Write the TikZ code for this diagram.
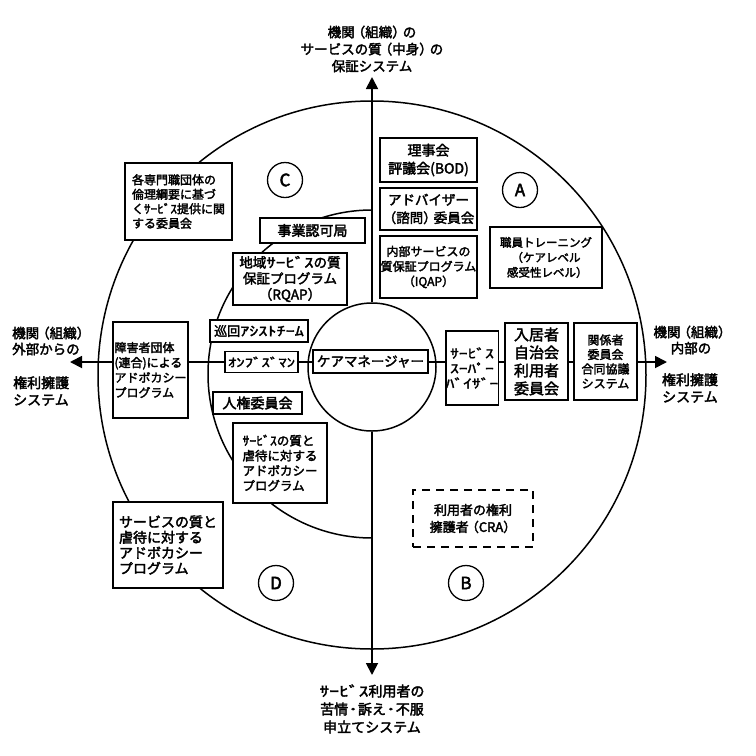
\documentclass[tikz,border=0pt]{standalone}
\usepackage{fontspec}
\setmainfont{Noto Sans CJK JP}[FakeBold=2.5]
\newfontfamily\hw{Noto Sans CJK JP}[FakeStretch=1.4, FakeBold=2.5]
\newfontfamily\hwn{Noto Sans CJK JP}[FakeStretch=1.1, FakeBold=2.5]
\newcommand\lpar{\kern-.22em（}
\newcommand\rpar{）\kern-.22em}
\usetikzlibrary{arrows.meta}
\begin{document}
\begin{tikzpicture}[x=1pt,y=-1pt,
  box/.style={draw, line width=1.5pt, fill=white, inner sep=0pt, align=center},
  lbl/.style={inner sep=0pt, align=center},
  axis/.style={line width=1.8pt, -{Triangle[length=12pt,width=12pt]}},
  link/.style={line width=1.8pt},
  zone/.style={circle, draw, line width=1.3pt, minimum size=35pt, inner sep=0pt, font=\fontsize{17pt}{17pt}\selectfont},
  fs/.style={font=\fontsize{#1pt}{#1pt}\selectfont},
]
\useasboundingbox (0,0) rectangle (756,756);
\fill[white] (0,0) rectangle (756,756);

% rings
\draw[line width=1.5pt] (372,375) circle[radius=274];
\begin{scope}
\clip (0,0) rectangle (372,756);
\draw[line width=1.5pt] (372,374) circle[radius=164];
\end{scope}

% central circle
\node[circle, draw, line width=1.5pt, fill=white, minimum size=128pt, inner sep=0pt] (cc) at (372,367) {};

% axis end points
\coordinate (topTip) at (372,77);
\coordinate (botTip) at (372,675);
\coordinate (leftTip) at (70,362);
\coordinate (rightTip) at (667,362);

% axis labels
\node[lbl, font=\fontsize{13.5pt}{17pt}\selectfont] (tlab) at (372,49) {機関\lpar 組織\rpar の\\サービスの質\lpar 中身\rpar の\\保証システム};
\node[lbl, font=\fontsize{14pt}{18pt}\selectfont] (blab) at (372,709) {{\hw ｻｰﾋﾞｽ}利用者の\\苦情{\hw ･}訴え{\hw ･}不服\\申立てシステム};
\node[lbl, align=left, anchor=west, font=\fontsize{13.5pt}{16pt}\selectfont] (llab1) at (12,341) {機関\lpar 組織\rpar\\外部からの};
\node[lbl, align=left, anchor=west, font=\fontsize{14pt}{17pt}\selectfont] (llab2) at (13,391) {権利擁護\\システム};
\node[lbl, font=\fontsize{13.5pt}{16pt}\selectfont] (rlab1) at (691,340) {機関\lpar 組織\rpar\\内部の};
\node[lbl, font=\fontsize{14pt}{17pt}\selectfont] (rlab2) at (690,388) {権利擁護\\システム};

% zone markers
\node[zone] (zA) at (520,190) {A};
\node[zone] (zB) at (466,583) {B};
\node[zone] (zC) at (285,180) {C};
\node[zone] (zD) at (276,583) {D};

% boxes
\node[box, align=left, minimum width=107pt, minimum height=77pt, font=\fontsize{12pt}{14.5pt}\selectfont] (kaku) at (178.5,201.5) {各専門職団体の\\倫理綱要に基づ\\く{\hwn ｻｰﾋﾞｽ}提供に関\\する委員会};
\node[box, minimum width=105pt, minimum height=25pt, fs=14] (jigyo) at (312.5,230.5) {事業認可局};
\node[box, minimum width=114pt, minimum height=52pt, font=\fontsize{13.5pt}{16pt}\selectfont] (chiiki) at (290,279) {地域{\hw ｻｰﾋﾞｽ}の質\\保証プログラム\\（RQAP）};
\node[box, minimum width=98pt, minimum height=22pt, fs=13] (junkai) at (259,331) {巡回{\hw ｱｼｽﾄﾁｰﾑ}};
\node[box, minimum width=73pt, minimum height=21pt, fs=12] (ombuds) at (261.5,362) {\hw ｵﾝﾌﾞｽﾞﾏﾝ};
\node[box, minimum width=89pt, minimum height=22pt, fs=14] (jinken) at (257.5,403) {人権委員会};
\node[box, align=left, minimum width=75pt, minimum height=96pt, font=\fontsize{12pt}{15pt}\selectfont] (shogai) at (150.5,370) {障害者団体\\(連合)による\\アドボカシー\\プログラム};
\node[box, minimum width=115pt, minimum height=23pt, fs=13.5] (care) at (370.5,361.5) {ケアマネージャー};
\node[box, minimum width=50pt, minimum height=74pt, font=\fontsize{12.5pt}{15pt}\selectfont\hw] (sv) at (472,368) {ｻｰﾋﾞｽ\\ｽｰﾊﾟｰ\\ﾊﾞｲｻﾞｰ};
\node[box, minimum width=63pt, minimum height=77pt, font=\fontsize{15pt}{18pt}\selectfont] (nyukyo) at (536.5,361.5) {入居者\\自治会\\利用者\\委員会};
\node[box, minimum width=63pt, minimum height=77pt, font=\fontsize{12pt}{14.5pt}\selectfont] (kankei) at (605.5,361.5) {関係者\\委員会\\合同協議\\システム};
\node[box, minimum width=97pt, minimum height=44pt, font=\fontsize{14pt}{18pt}\selectfont] (riji) at (428.5,160) {理事会\\評議会(BOD)};
\node[box, minimum width=97pt, minimum height=42pt, font=\fontsize{13.5pt}{18pt}\selectfont] (advisor) at (428.5,209) {アドバイザー\\（諮問\rpar 委員会};
\node[box, minimum width=97pt, minimum height=62pt, font=\fontsize{12pt}{15pt}\selectfont] (naibu) at (428.5,267) {内部サービスの\\質保証プログラム\\（IQAP）};
\node[box, minimum width=112pt, minimum height=61pt, font=\fontsize{11.5pt}{15pt}\selectfont] (shokuin) at (546,257.5) {職員トレーニング\\（ケアレベル\\\ 感受性レベル）};
\node[box, align=left, minimum width=94pt, minimum height=80pt, font=\fontsize{12.5pt}{15pt}\selectfont] (innerqa) at (280,463) {{\hwn ｻｰﾋﾞｽ}の質と\\虐待に対する\\アドボカシー\\プログラム};
\node[box, align=left, minimum width=110pt, minimum height=86pt, font=\fontsize{14pt}{15.5pt}\selectfont] (outerqa) at (168,545) {サービスの質と\\虐待に対する\\アドボカシー\\プログラム};
\node[box, dash pattern=on 8pt off 6pt, minimum width=120pt, minimum height=57pt, font=\fontsize{13pt}{17pt}\selectfont] (cra) at (473,518.5) {利用者の権利\\擁護者\lpar CRA）};

% vertical axis
\draw[axis] (cc.north) -- (topTip);
\draw[axis] (cc.south) -- (botTip);

% horizontal axis
\draw[axis] (shogai.west |- leftTip) -- (leftTip);
\draw[link] (shogai.east |- leftTip) -- (ombuds.west |- leftTip);
\draw[link] (ombuds.east |- leftTip) -- (care.west |- leftTip);
\draw[link] (care.east |- leftTip) -- (sv.west |- leftTip);
\draw[link] (sv.east |- leftTip) -- (nyukyo.west |- leftTip);
\draw[link] (nyukyo.east |- leftTip) -- (kankei.west |- leftTip);
\draw[axis] (kankei.east |- leftTip) -- (rightTip);
\end{tikzpicture}
\end{document}
